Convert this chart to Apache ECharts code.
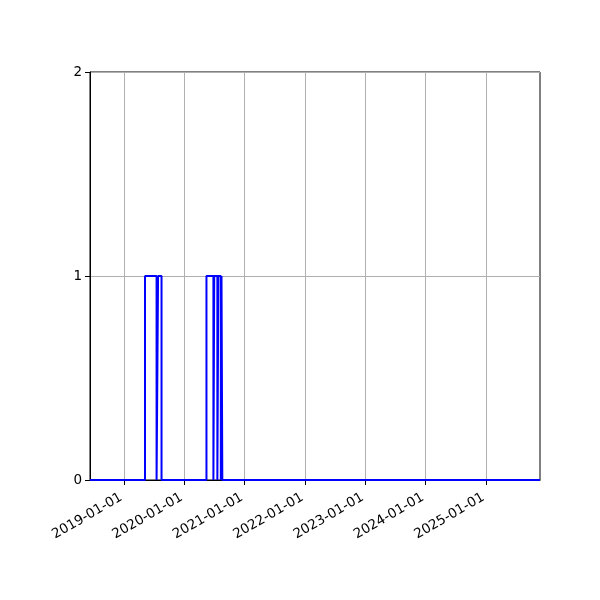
<!DOCTYPE html>
<html>
<head>
<meta charset="utf-8">
<script src="https://cdn.jsdelivr.net/npm/echarts@6/dist/echarts.min.js"></script>
<style>html,body{margin:0;padding:0;background:#fff}#c{width:600px;height:600px}</style>
</head>
<body>
<div id="c"></div>
<script>
// Change dates (value holds from this date until the next one)
const dates = [
  '2018-06-10', '2019-05-09', '2019-07-18', '2019-07-27', '2019-08-17',
  '2020-05-15', '2020-06-26', '2020-07-01', '2020-07-20', '2020-07-26',
  '2020-08-10', '2020-08-14', '2020-08-19', '2025-11-24'
];
const values = [0, 1, 0, 1, 0, 1, 0, 1, 0, 1, 0, 1, 0, 0];
const xTickLabels = ['2019-01-01','2020-01-01','2021-01-01','2022-01-01','2023-01-01','2024-01-01','2025-01-01'];
const yTicks = [0, 1, 2];
const xMin = '2018-06-10';
const xMax = '2025-11-24';

const ts = s => new Date(s + 'T00:00:00Z').getTime();
const data = dates.map((d, i) => [ts(d), values[i]]);
const tickVals = xTickLabels.map(ts);
const fmt = v => {
  const d = new Date(v);
  const p = n => String(n).padStart(2, '0');
  return d.getUTCFullYear() + '-' + p(d.getUTCMonth() + 1) + '-' + p(d.getUTCDate());
};

const chart = echarts.init(document.getElementById('c'), null, {renderer: 'canvas'});
chart.setOption({
  animation: false,
  backgroundColor: '#fff',
  textStyle: {fontFamily: 'DejaVu Sans'},
  grid: {left: 90, right: 60, top: 72, bottom: 120, show: true, borderColor: '#000', borderWidth: 1, backgroundColor: 'transparent'},
  xAxis: {
    type: 'value',
    min: ts(xMin),
    max: ts(xMax),
    axisLine: {show: true, lineStyle: {color: '#000', width: 1}},
    axisTick: {show: true, inside: false, length: 5, lineStyle: {color: '#000'}, customValues: tickVals},
    axisLabel: {
      show: true, rotate: 30, margin: 15, color: '#000', fontSize: 13.5, fontFamily: 'DejaVu Sans',
      padding: [0, 3, 0, 0],
      customValues: tickVals,
      formatter: fmt
    },
    splitLine: {show: true, lineStyle: {color: '#b0b0b0', width: 1}}
  },
  yAxis: {
    type: 'value',
    min: yTicks[0], max: yTicks[yTicks.length - 1], interval: 1,
    axisLine: {show: true, lineStyle: {color: '#000', width: 1}},
    axisTick: {show: true, inside: false, length: 5, lineStyle: {color: '#000'}},
    axisLabel: {color: '#000', fontSize: 13.5, margin: 8, fontFamily: 'DejaVu Sans'},
    splitLine: {show: true, lineStyle: {color: '#b0b0b0', width: 1}}
  },
  series: [{
    type: 'line',
    step: 'end',
    data: data,
    showSymbol: false,
    symbol: 'none',
    lineStyle: {color: '#0000ff', width: 2},
    z: 3
  }]
});
</script>
</body>
</html>
